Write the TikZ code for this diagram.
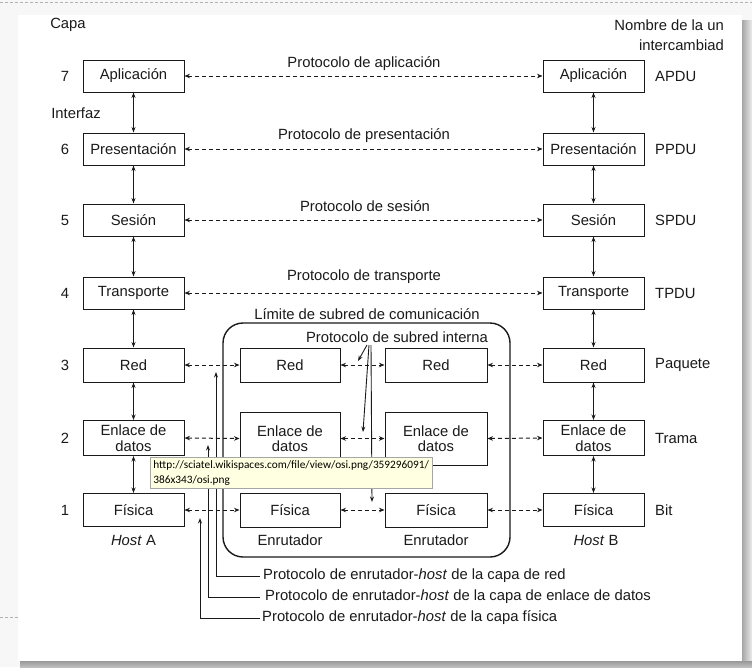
\documentclass[tikz,border=0pt]{standalone}
\usepackage{fontspec}
\setmainfont{Liberation Sans}
\newfontfamily\tipfam{Carlito}
\usetikzlibrary{arrows.meta}
\definecolor{tipyellow}{HTML}{FFFFE1}
\definecolor{ink}{HTML}{1A1A1A}
\begin{document}
\begin{tikzpicture}[x=1pt,y=-1pt,
  lab/.style={font=\fontsize{14.8}{15.5}\selectfont, inner sep=0pt, text=ink},
  box/.style={draw=ink, line width=1pt, minimum width=101pt, minimum height=32pt, inner sep=0pt, align=center, text=ink, font=\fontsize{14.8}{15.5}\selectfont},
  dar/.style={draw=ink, dash pattern=on 4pt off 3pt, line width=1pt, {Stealth[length=5.5pt,width=4.5pt]}-{Stealth[length=5.5pt,width=4.5pt]}},
  var/.style={draw=ink, line width=0.9pt, {Stealth[length=5.5pt,width=4pt]}-{Stealth[length=5.5pt,width=4pt]}},
  pln/.style={draw=ink, line width=0.9pt, -{Stealth[length=5.5pt,width=4pt]}}
]
\useasboundingbox (0,0) rectangle (752,667);
% screen background
\fill[gray!6] (0,0) rectangle (752,667);
\draw[gray!60, dash pattern=on 3pt off 2pt] (0,2) -- (752,2);
\draw[gray!60, dash pattern=on 3pt off 2pt] (0,617) -- (18,617);
\shade[left color=gray!70, right color=gray!15] (742,20) rectangle (752,667);
\shade[top color=gray!80, bottom color=gray!50] (20,661) rectangle (752,667);
\fill[white] (18,15) rectangle (742,661);

% headings
\node[lab] (capa) at (68,25) {Capa};
\node[lab, anchor=east] (nom1) at (724,25) {Nombre de la un};
\node[lab, anchor=east] (nom2) at (724,45) {intercambiad};
\node[lab] (interfaz) at (76,113) {Interfaz};

% layer numbers
\foreach \n/\y in {7/76,6/149,5/220,4/293,3/365,2/438,1/510}
  \node[lab] (n\n) at (65,\y) {\n};

% host A
\node[box] (A7) at (133.5,76) {Aplicación};
\node[box] (A6) at (133.5,149) {Presentación};
\node[box] (A5) at (133.5,220) {Sesión};
\node[box] (A4) at (133.5,293) {Transporte};
\node[box, minimum height=34pt] (A3) at (133.5,365) {Red};
\node[box, minimum height=35pt] (A2) at (133.5,438) {Enlace de\\datos};
\node[box, minimum height=33pt] (A1) at (133.5,510) {Física};
\node[lab] (hostA) at (133.5,540) {\textit{Host} A};

% host B
\node[box] (B7) at (593.5,76) {Aplicación};
\node[box] (B6) at (593.5,149) {Presentación};
\node[box] (B5) at (593.5,220) {Sesión};
\node[box] (B4) at (593.5,293) {Transporte};
\node[box, minimum height=34pt] (B3) at (593.5,365) {Red};
\node[box, minimum height=35pt] (B2) at (593.5,438) {Enlace de\\datos};
\node[box, minimum height=33pt] (B1) at (593.5,510) {Física};
\node[lab] (hostB) at (596,540) {\textit{Host} B};

% unit names
\node[lab, anchor=west] (u7) at (655,76) {APDU};
\node[lab, anchor=west] (u6) at (655,149) {PPDU};
\node[lab, anchor=west] (u5) at (655,220) {SPDU};
\node[lab, anchor=west] (u4) at (655,293) {TPDU};
\node[lab, anchor=west] (u3) at (655,365) {Paquete};
\node[lab, anchor=west] (u2) at (655,438) {Trama};
\node[lab, anchor=west] (u1) at (655,510) {Bit};

% vertical interfaces
\foreach \a/\b in {7/6,6/5,5/4,4/3,3/2,2/1}{
  \draw[var] (A\a.south) -- (A\b.north);
  \draw[var] (B\a.south) -- (B\b.north);
}

% peer protocols
\node[lab] (p7) at (364,64) {Protocolo de aplicación};
\node[lab] (p6) at (364,136) {Protocolo de presentación};
\node[lab] (p5) at (365,206) {Protocolo de sesión};
\node[lab] (p4) at (364,277) {Protocolo de transporte};
\foreach \k in {7,6,5,4}
  \draw[dar] (A\k.east) -- (B\k.west);

% subnet
\node[draw=ink, line width=1.4pt, rounded corners=20pt, minimum width=287pt, minimum height=234pt, inner sep=0pt] (subnet) at (366.5,440) {};
\node[lab] (limite) at (367,314) {Límite de subred de comunicación};
\node[lab] (interna) at (397,337) {Protocolo de subred interna};

\node[box, minimum width=100pt, minimum height=34pt] (R3) at (290,365) {Red};
\node[box, minimum width=100pt, minimum height=53pt] (R2) at (290,438.5) {Enlace de\\datos};
\node[box, minimum width=100pt, minimum height=34pt] (R1) at (290,510) {Física};
\node[box, minimum width=102pt, minimum height=34pt] (S3) at (436,365) {Red};
\node[box, minimum width=102pt, minimum height=53pt] (S2) at (436,438.5) {Enlace de\\datos};
\node[box, minimum width=102pt, minimum height=34pt] (S1) at (436,510) {Física};
\node[lab] (enr1) at (290,540) {Enrutador};
\node[lab] (enr2) at (436,540) {Enrutador};

\foreach \k in {3,2,1}{
  \draw[dar] (A\k.east) -- (R\k.west);
  \draw[dar] (R\k.east) -- (S\k.west);
  \draw[dar] (S\k.east) -- (B\k.west);
}

% internal subnet protocol pointers
\coordinate (ia) at (367,345);
\coordinate (ib) at (369,345);
\coordinate (ic) at (371,345);
\coordinate (ta) at (358,361);
\coordinate (tb) at (363,432);
\coordinate (tc) at (372,502);
\draw[pln] (ia) -- (ta);
\draw[pln] (ib) -- (tb);
\draw[pln] (ic) -- (tc);

% host-router protocols
\node[lab, anchor=west] (L3) at (263,576) {Protocolo de enrutador-\textit{host} de la capa de red};
\node[lab, anchor=west] (L2) at (265,597) {Protocolo de enrutador-\textit{host} de la capa de enlace de datos};
\node[lab, anchor=west] (L1) at (262,618) {Protocolo de enrutador-\textit{host} de la capa física};
\coordinate (h3) at (216,372);
\coordinate (h2) at (208,445);
\coordinate (h1) at (200,518);
\draw[pln] ([xshift=-3pt]L3.west) -| (h3);
\draw[pln] ([xshift=-5pt]L2.west) -| (h2);
\draw[pln] ([xshift=-2pt]L1.west) -| (h1);

% browser tooltip
\node[draw=gray!70, fill=tipyellow, anchor=north west, align=left, inner xsep=2.5pt, inner ysep=2pt,
      minimum width=282pt, minimum height=31pt, font=\tipfam\fontsize{11.3}{15}\selectfont] (tooltip) at (150,457)
  {http://sciatel.wikispaces.com/file/view/osi.png/359296091/\\386x343/osi.png};
\end{tikzpicture}
\end{document}
